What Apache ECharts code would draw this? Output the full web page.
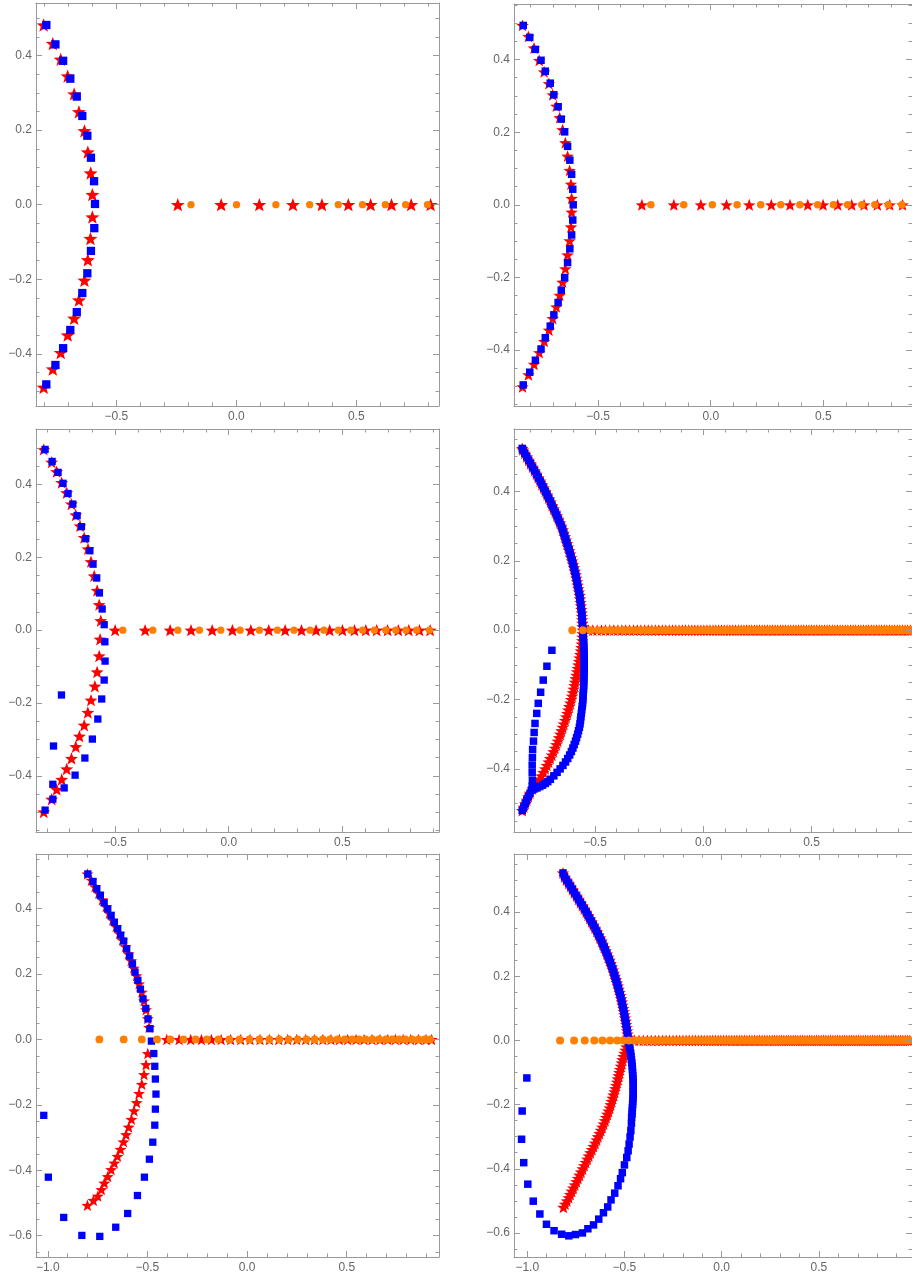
<!DOCTYPE html>
<html>
<head>
<meta charset="utf-8">
<script src="https://cdn.jsdelivr.net/npm/echarts@6/dist/echarts.min.js"></script>
<style>
html,body{margin:0;padding:0;background:#fff;overflow:hidden;}
#chart{width:912px;height:1279px;}
</style>
</head>
<body>
<div id="chart"></div>
<script>
// ---------------- DATA ----------------
// tick labels
const xTicksA = [-0.5, 0.0, 0.5];
const xTicksB = [-1.0, -0.5, 0.0, 0.5];
const yTicksA = [-0.4, -0.2, 0.0, 0.2, 0.4];
const yTicksB = [-0.6, -0.4, -0.2, 0.0, 0.2, 0.4];

// Panel 1
const p1ArcStars = [[-0.803,0.482],[-0.765,0.432],[-0.732,0.390],[-0.703,0.345],[-0.676,0.297],[-0.656,0.249],[-0.633,0.198],[-0.619,0.141],[-0.607,0.085],[-0.600,0.027],[-0.600,-0.033],[-0.608,-0.091],[-0.619,-0.148],[-0.633,-0.203],[-0.656,-0.256],[-0.676,-0.305],[-0.703,-0.350],[-0.732,-0.397],[-0.765,-0.441],[-0.803,-0.490]];
const p1AxisStarX = [-0.244,-0.063,0.096,0.236,0.357,0.467,0.560,0.647,0.729,0.810];
const p1Squares = [[-0.792,0.482],[-0.754,0.430],[-0.722,0.386],[-0.692,0.338],[-0.665,0.290],[-0.642,0.238],[-0.621,0.185],[-0.606,0.126],[-0.593,0.063],[-0.589,0.002],[-0.592,-0.063],[-0.606,-0.124],[-0.621,-0.184],[-0.642,-0.237],[-0.665,-0.288],[-0.692,-0.336],[-0.722,-0.385],[-0.754,-0.430],[-0.792,-0.482]];
const p1CircleX = [-0.189,0.001,0.165,0.306,0.425,0.526,0.621,0.706,0.797];

// Panel 2
const p2ArcStars = [[-0.836,0.494],[-0.810,0.464],[-0.785,0.432],[-0.762,0.398],[-0.740,0.366],[-0.719,0.334],[-0.702,0.303],[-0.686,0.272],[-0.671,0.240],[-0.658,0.207],[-0.646,0.171],[-0.636,0.134],[-0.627,0.095],[-0.621,0.057],[-0.618,0.018],[-0.618,-0.020],[-0.621,-0.061],[-0.627,-0.099],[-0.636,-0.138],[-0.646,-0.176],[-0.658,-0.213],[-0.671,-0.249],[-0.686,-0.281],[-0.702,-0.313],[-0.719,-0.345],[-0.740,-0.376],[-0.762,-0.407],[-0.785,-0.439],[-0.810,-0.468],[-0.836,-0.501]];
const p2AxisStarX = [-0.306,-0.164,-0.044,0.070,0.171,0.269,0.352,0.431,0.499,0.564,0.626,0.681,0.740,0.795,0.852];
const p2Squares = [[-0.833,0.494],[-0.804,0.461],[-0.779,0.428],[-0.754,0.398],[-0.735,0.368],[-0.713,0.335],[-0.697,0.303],[-0.678,0.270],[-0.664,0.236],[-0.649,0.201],[-0.636,0.161],[-0.626,0.123],[-0.618,0.084],[-0.613,0.043],[-0.611,0.000],[-0.613,-0.042],[-0.618,-0.083],[-0.626,-0.121],[-0.636,-0.159],[-0.649,-0.200],[-0.664,-0.235],[-0.678,-0.269],[-0.697,-0.303],[-0.713,-0.334],[-0.735,-0.366],[-0.754,-0.397],[-0.779,-0.428],[-0.804,-0.461],[-0.833,-0.496]];
const p2CircleX = [-0.266,-0.120,0.007,0.117,0.222,0.311,0.396,0.475,0.545,0.608,0.671,0.729,0.788,0.849];

// Panel 3
const p3ArcStars = [[-0.814,0.496],[-0.779,0.461],[-0.757,0.435],[-0.735,0.405],[-0.713,0.377],[-0.692,0.346],[-0.673,0.316],[-0.654,0.286],[-0.636,0.254],[-0.619,0.223],[-0.606,0.188],[-0.592,0.149],[-0.579,0.109],[-0.570,0.070],[-0.563,0.026],[-0.566,-0.025],[-0.570,-0.071],[-0.579,-0.115],[-0.589,-0.154],[-0.606,-0.192],[-0.620,-0.226],[-0.636,-0.261],[-0.657,-0.291],[-0.673,-0.320],[-0.692,-0.352],[-0.713,-0.381],[-0.735,-0.410],[-0.757,-0.437],[-0.779,-0.464],[-0.814,-0.499]];
const p3AxisStarX = [-0.500,-0.368,-0.258,-0.166,-0.073,0.016,0.097,0.176,0.248,0.320,0.384,0.444,0.500,0.553,0.603,0.651,0.699,0.746,0.792,0.839,0.886];
const p3Squares = [[-0.808,0.496],[-0.777,0.463],[-0.751,0.433],[-0.729,0.403],[-0.707,0.375],[-0.686,0.346],[-0.667,0.314],[-0.648,0.284],[-0.629,0.251],[-0.611,0.218],[-0.597,0.181],[-0.581,0.143],[-0.569,0.102],[-0.557,0.058],[-0.548,0.015],[-0.545,-0.032],[-0.544,-0.085],[-0.548,-0.137],[-0.559,-0.189],[-0.576,-0.244],[-0.600,-0.299],[-0.633,-0.351],[-0.676,-0.398],[-0.724,-0.433],[-0.774,-0.464],[-0.808,-0.494],[-0.736,-0.178],[-0.771,-0.318],[-0.774,-0.423]];
const p3CircleX = [-0.466,-0.334,-0.224,-0.129,-0.035,0.050,0.135,0.214,0.287,0.358,0.419,0.482,0.537,0.589,0.641,0.691,0.735,0.780,0.827,0.883];

// Panel 4
const p4UpperArc = [[-0.836,0.524],[-0.833,0.52],[-0.824,0.51],[-0.815,0.50],[-0.806,0.49],[-0.797,0.48],[-0.788,0.47],[-0.779,0.46],[-0.770,0.45],[-0.762,0.44],[-0.753,0.43],[-0.745,0.42],[-0.737,0.41],[-0.729,0.40],[-0.721,0.39],[-0.713,0.38],[-0.705,0.37],[-0.698,0.36],[-0.691,0.35],[-0.683,0.34],[-0.676,0.33],[-0.669,0.32],[-0.662,0.31],[-0.655,0.30],[-0.649,0.29],[-0.644,0.28],[-0.639,0.27],[-0.634,0.26],[-0.629,0.25],[-0.624,0.24],[-0.619,0.23],[-0.614,0.22],[-0.610,0.21],[-0.605,0.20],[-0.601,0.19],[-0.597,0.18],[-0.593,0.17],[-0.589,0.16],[-0.586,0.15],[-0.583,0.14],[-0.580,0.13],[-0.577,0.12],[-0.574,0.11],[-0.571,0.10],[-0.569,0.09],[-0.567,0.08],[-0.565,0.07],[-0.563,0.06],[-0.561,0.05],[-0.560,0.04],[-0.559,0.03],[-0.558,0.02],[-0.557,0.01],[-0.556,0.00]];
const p4BlueLower = [[-0.555,-0.01],[-0.554,-0.02],[-0.553,-0.03],[-0.552,-0.04],[-0.551,-0.05],[-0.551,-0.06],[-0.550,-0.07],[-0.550,-0.08],[-0.550,-0.09],[-0.550,-0.10],[-0.550,-0.11],[-0.550,-0.12],[-0.551,-0.13],[-0.551,-0.14],[-0.552,-0.15],[-0.552,-0.16],[-0.553,-0.17],[-0.554,-0.18],[-0.555,-0.19],[-0.556,-0.20],[-0.557,-0.21],[-0.559,-0.22],[-0.561,-0.23],[-0.563,-0.24],[-0.565,-0.25],[-0.567,-0.26],[-0.569,-0.27],[-0.572,-0.28],[-0.576,-0.29],[-0.580,-0.30],[-0.585,-0.31],[-0.590,-0.32],[-0.596,-0.33],[-0.602,-0.34],[-0.609,-0.35],[-0.617,-0.36],[-0.626,-0.37],[-0.636,-0.38],[-0.648,-0.39],[-0.661,-0.40],[-0.675,-0.41],[-0.690,-0.42],[-0.706,-0.43],[-0.718,-0.437],[-0.730,-0.442],[-0.742,-0.447],[-0.755,-0.451],[-0.768,-0.455],[-0.781,-0.458],[-0.793,-0.461]];
const p4RedLower = [[-0.557,-0.01],[-0.558,-0.02],[-0.559,-0.03],[-0.561,-0.04],[-0.563,-0.05],[-0.565,-0.06],[-0.568,-0.07],[-0.571,-0.08],[-0.574,-0.09],[-0.577,-0.10],[-0.580,-0.11],[-0.583,-0.12],[-0.586,-0.13],[-0.589,-0.14],[-0.592,-0.15],[-0.595,-0.16],[-0.599,-0.17],[-0.602,-0.18],[-0.606,-0.19],[-0.610,-0.20],[-0.614,-0.21],[-0.619,-0.22],[-0.623,-0.23],[-0.628,-0.24],[-0.633,-0.25],[-0.638,-0.26],[-0.644,-0.27],[-0.649,-0.28],[-0.655,-0.29],[-0.660,-0.30],[-0.666,-0.31],[-0.672,-0.32],[-0.679,-0.33],[-0.685,-0.34],[-0.692,-0.35],[-0.699,-0.36],[-0.707,-0.37],[-0.714,-0.38],[-0.722,-0.39],[-0.730,-0.40],[-0.739,-0.41],[-0.748,-0.42],[-0.758,-0.43],[-0.768,-0.44],[-0.778,-0.45],[-0.788,-0.458]];
const p4Tail = [[-0.800,-0.470],[-0.808,-0.480],[-0.815,-0.490],[-0.822,-0.500],[-0.829,-0.510],[-0.836,-0.520]];
const p4BlueStub = [[-0.699,-0.058],[-0.722,-0.104],[-0.739,-0.144],[-0.751,-0.179],[-0.762,-0.211],[-0.769,-0.240],[-0.777,-0.269],[-0.781,-0.295],[-0.784,-0.320],[-0.788,-0.344],[-0.789,-0.367],[-0.790,-0.389],[-0.790,-0.411],[-0.789,-0.433],[-0.790,-0.450]];
const p4AxisStarX = [-0.530,-0.510,-0.490,-0.470,-0.451,-0.432,-0.413,-0.394,-0.376,-0.358,-0.340,-0.322,-0.305,-0.288,-0.271,-0.254,-0.237,-0.221,-0.205,-0.189,-0.173,-0.157,-0.142,-0.127,-0.112,-0.097,-0.082,-0.067,-0.053,-0.039,-0.025,-0.011,0.003,0.017,0.031,0.045,0.058,0.071,0.084,0.097,0.110,0.123,0.136,0.149,0.162,0.175,0.188,0.200,0.212,0.224,0.236,0.248,0.260,0.272,0.284,0.296,0.308,0.320,0.332,0.344,0.356,0.368,0.380,0.392,0.404,0.416,0.428,0.440,0.452,0.464,0.476,0.488,0.500,0.512,0.524,0.536,0.548,0.560,0.572,0.584,0.596,0.608,0.620,0.632,0.644,0.656,0.668,0.680,0.692,0.704,0.716,0.728,0.740,0.752,0.764,0.776,0.788,0.800,0.812,0.824,0.836,0.848,0.860,0.872,0.884,0.896,0.908,0.920,0.932,0.944,0.956];
const p4CircleX = [-0.605,-0.556,-0.521,-0.487,-0.455,-0.425,-0.396,-0.368,-0.341,-0.315,-0.290,-0.265,-0.241,-0.218,-0.195,-0.173,-0.151,-0.130,-0.109,-0.089,-0.069,-0.049,-0.030,-0.011,0.008,0.026,0.044,0.062,0.079,0.096,0.113,0.130,0.146,0.162,0.178,0.194,0.210,0.225,0.240,0.255,0.270,0.285,0.299,0.313,0.327,0.341,0.355,0.369,0.382,0.395,0.408,0.421,0.434,0.447,0.460,0.472,0.484,0.496,0.508,0.520,0.532,0.544,0.556,0.567,0.578,0.589,0.600,0.611,0.622,0.633,0.644,0.655,0.665,0.675,0.685,0.695,0.705,0.715,0.725,0.735,0.745,0.755,0.765,0.774,0.783,0.792,0.801,0.810,0.819,0.828,0.837,0.846,0.855,0.864,0.873,0.882,0.891,0.900,0.909,0.918,0.927,0.936,0.945,0.954,0.963];

// Panel 5
const p5ArcStars = [[-0.801,0.506],[-0.781,0.487],[-0.763,0.467],[-0.744,0.447],[-0.726,0.427],[-0.707,0.406],[-0.691,0.386],[-0.674,0.365],[-0.657,0.345],[-0.640,0.324],[-0.625,0.304],[-0.610,0.284],[-0.595,0.262],[-0.582,0.241],[-0.569,0.218],[-0.555,0.195],[-0.542,0.170],[-0.528,0.145],[-0.517,0.118],[-0.507,0.091],[-0.498,0.064],[-0.492,0.037],[-0.498,-0.043],[-0.507,-0.077],[-0.517,-0.107],[-0.528,-0.137],[-0.542,-0.165],[-0.554,-0.193],[-0.567,-0.218],[-0.580,-0.244],[-0.594,-0.268],[-0.607,-0.291],[-0.620,-0.313],[-0.635,-0.336],[-0.650,-0.357],[-0.666,-0.378],[-0.682,-0.398],[-0.699,-0.419],[-0.716,-0.439],[-0.731,-0.459],[-0.749,-0.479],[-0.771,-0.492],[-0.801,-0.507]];
const p5AxisStarX = [-0.403,-0.341,-0.283,-0.229,-0.179,-0.130,-0.082,-0.032,0.015,0.065,0.112,0.159,0.204,0.249,0.294,0.338,0.380,0.421,0.463,0.505,0.547,0.587,0.627,0.667,0.706,0.744,0.783,0.821,0.860,0.898,0.926];
const p5Squares = [[-0.799,0.506],[-0.773,0.483],[-0.754,0.461],[-0.736,0.441],[-0.717,0.418],[-0.699,0.399],[-0.682,0.379],[-0.666,0.358],[-0.649,0.339],[-0.634,0.319],[-0.619,0.301],[-0.604,0.277],[-0.589,0.255],[-0.575,0.231],[-0.562,0.206],[-0.548,0.181],[-0.535,0.154],[-0.522,0.124],[-0.508,0.095],[-0.497,0.063],[-0.487,0.033],[-0.480,-0.005],[-0.468,-0.043],[-0.463,-0.082],[-0.460,-0.121],[-0.457,-0.167],[-0.460,-0.213],[-0.463,-0.262],[-0.473,-0.314],[-0.490,-0.366],[-0.515,-0.421],[-0.550,-0.477],[-0.599,-0.532],[-0.659,-0.574],[-0.739,-0.602],[-0.829,-0.599],[-0.920,-0.544],[-0.997,-0.421],[-1.020,-0.232]];
const p5CircleX = [-0.741,-0.619,-0.528,-0.452,-0.385,-0.319,-0.258,-0.201,-0.144,-0.089,-0.038,0.012,0.062,0.112,0.162,0.209,0.254,0.298,0.339,0.380,0.416,0.453,0.490,0.527,0.562,0.595,0.629,0.662,0.696,0.729,0.763,0.794,0.828,0.860,0.891,0.918];

// Panel 6
const p6UpperArc = [[-0.816,0.522],[-0.808,0.51],[-0.798,0.50],[-0.787,0.49],[-0.777,0.48],[-0.767,0.47],[-0.757,0.46],[-0.746,0.45],[-0.736,0.44],[-0.726,0.43],[-0.716,0.42],[-0.706,0.41],[-0.696,0.40],[-0.687,0.39],[-0.678,0.38],[-0.669,0.37],[-0.660,0.36],[-0.651,0.35],[-0.642,0.34],[-0.634,0.33],[-0.626,0.32],[-0.618,0.31],[-0.611,0.30],[-0.604,0.29],[-0.597,0.28],[-0.590,0.27],[-0.583,0.26],[-0.577,0.25],[-0.571,0.24],[-0.565,0.23],[-0.559,0.22],[-0.554,0.21],[-0.549,0.20],[-0.544,0.19],[-0.539,0.18],[-0.534,0.17],[-0.530,0.16],[-0.525,0.15],[-0.521,0.14],[-0.517,0.13],[-0.513,0.12],[-0.510,0.11],[-0.506,0.10],[-0.503,0.09],[-0.500,0.08],[-0.497,0.07],[-0.494,0.06],[-0.491,0.05],[-0.489,0.04],[-0.486,0.03],[-0.484,0.02],[-0.482,0.01],[-0.480,0.00]];
const p6BlueLower = [[-0.477,-0.01],[-0.474,-0.02],[-0.471,-0.03],[-0.468,-0.04],[-0.466,-0.05],[-0.464,-0.06],[-0.462,-0.07],[-0.460,-0.08],[-0.459,-0.09],[-0.458,-0.10],[-0.457,-0.11],[-0.456,-0.12],[-0.455,-0.13],[-0.455,-0.14],[-0.455,-0.15],[-0.455,-0.16],[-0.455,-0.17],[-0.456,-0.18],[-0.457,-0.19],[-0.458,-0.20],[-0.459,-0.21],[-0.460,-0.22],[-0.461,-0.23],[-0.463,-0.24],[-0.464,-0.258],[-0.467,-0.281],[-0.471,-0.301],[-0.476,-0.323],[-0.481,-0.344],[-0.488,-0.365],[-0.500,-0.388],[-0.511,-0.412],[-0.520,-0.431],[-0.533,-0.453],[-0.550,-0.476],[-0.569,-0.497],[-0.586,-0.519],[-0.608,-0.537],[-0.632,-0.557],[-0.659,-0.575],[-0.688,-0.587],[-0.716,-0.600],[-0.752,-0.605],[-0.786,-0.609],[-0.823,-0.604],[-0.862,-0.593],[-0.901,-0.573],[-0.935,-0.541],[-0.969,-0.501],[-0.997,-0.448],[-1.018,-0.381],[-1.029,-0.308],[-1.026,-0.220],[-1.002,-0.117]];
const p6RedLower = [[-0.485,-0.01],[-0.490,-0.02],[-0.495,-0.03],[-0.500,-0.04],[-0.505,-0.05],[-0.510,-0.06],[-0.514,-0.07],[-0.518,-0.08],[-0.522,-0.09],[-0.526,-0.10],[-0.530,-0.11],[-0.534,-0.12],[-0.538,-0.13],[-0.542,-0.14],[-0.547,-0.15],[-0.551,-0.16],[-0.556,-0.17],[-0.561,-0.18],[-0.566,-0.19],[-0.571,-0.20],[-0.576,-0.21],[-0.582,-0.22],[-0.588,-0.23],[-0.594,-0.24],[-0.600,-0.25],[-0.607,-0.26],[-0.614,-0.27],[-0.621,-0.28],[-0.628,-0.29],[-0.636,-0.30],[-0.643,-0.31],[-0.651,-0.32],[-0.659,-0.33],[-0.667,-0.34],[-0.675,-0.35],[-0.683,-0.36],[-0.691,-0.37],[-0.699,-0.38],[-0.707,-0.39],[-0.715,-0.40],[-0.723,-0.41],[-0.731,-0.42],[-0.739,-0.43],[-0.747,-0.44],[-0.755,-0.45],[-0.763,-0.46],[-0.771,-0.47],[-0.779,-0.48],[-0.787,-0.49],[-0.796,-0.50],[-0.805,-0.51],[-0.814,-0.52]];
const p6AxisStarX = [-0.472,-0.448,-0.425,-0.403,-0.382,-0.362,-0.342,-0.323,-0.304,-0.286,-0.268,-0.250,-0.233,-0.216,-0.199,-0.183,-0.167,-0.151,-0.135,-0.120,-0.105,-0.090,-0.075,-0.060,-0.046,-0.032,-0.018,-0.004,0.010,0.024,0.038,0.052,0.065,0.078,0.091,0.104,0.117,0.130,0.143,0.156,0.169,0.182,0.195,0.208,0.221,0.234,0.247,0.260,0.272,0.284,0.296,0.308,0.320,0.332,0.344,0.356,0.368,0.380,0.392,0.404,0.416,0.428,0.440,0.452,0.464,0.476,0.488,0.500,0.512,0.524,0.536,0.548,0.560,0.572,0.584,0.596,0.608,0.620,0.632,0.644,0.656,0.668,0.680,0.692,0.704,0.716,0.728,0.740,0.752,0.764,0.776,0.788,0.800,0.812,0.824,0.836,0.848,0.860,0.872,0.884,0.896,0.908,0.920,0.932,0.944,0.956,0.968];
const p6CircleX = [-0.831,-0.759,-0.704,-0.655,-0.613,-0.574,-0.537,-0.506,-0.477,-0.452,-0.430,-0.408,-0.388,-0.368,-0.349,-0.330,-0.312,-0.294,-0.277,-0.260,-0.243,-0.227,-0.211,-0.195,-0.180,-0.165,-0.150,-0.135,-0.121,-0.107,-0.093,-0.079,-0.065,-0.052,-0.039,-0.026,-0.013,0.000,0.013,0.025,0.037,0.049,0.061,0.073,0.085,0.097,0.108,0.119,0.130,0.141,0.152,0.163,0.174,0.185,0.196,0.206,0.216,0.226,0.236,0.246,0.256,0.266,0.276,0.286,0.296,0.306,0.317,0.328,0.339,0.350,0.361,0.372,0.383,0.394,0.405,0.416,0.427,0.438,0.449,0.460,0.471,0.482,0.493,0.504,0.515,0.526,0.537,0.548,0.559,0.570,0.581,0.592,0.603,0.614,0.625,0.636,0.647,0.658,0.669,0.680,0.691,0.702,0.713,0.724,0.735,0.746,0.757,0.768,0.779,0.790,0.801,0.812,0.823,0.834,0.845,0.856,0.867,0.878,0.889,0.900,0.911,0.922,0.933,0.944,0.955,0.966];

// ---------------- BUILD ----------------
const onAxis = xs => xs.map(x => [x, 0]);
const panelData = [
  { stars: p1ArcStars.concat(onAxis(p1AxisStarX)), squares: p1Squares, circles: onAxis(p1CircleX) },
  { stars: p2ArcStars.concat(onAxis(p2AxisStarX)), squares: p2Squares, circles: onAxis(p2CircleX) },
  { stars: p3ArcStars.concat(onAxis(p3AxisStarX)), squares: p3Squares, circles: onAxis(p3CircleX) },
  { stars: p4UpperArc.concat(p4RedLower, p4Tail, onAxis(p4AxisStarX)), squares: p4UpperArc.concat(p4BlueLower, p4Tail, p4BlueStub), circles: onAxis(p4CircleX) },
  { stars: p5ArcStars.concat(onAxis(p5AxisStarX)), squares: p5Squares, circles: onAxis(p5CircleX) },
  { stars: p6UpperArc.concat(p6RedLower, onAxis(p6AxisStarX)), squares: p6UpperArc.concat(p6BlueLower), circles: onAxis(p6CircleX) }
];

// layout / style (not data)
const layout = [
  { left: 36,  top: 3,   w: 403, h: 403, x: [-0.835, 0.845], y: [-0.540, 0.541], xt: xTicksA, yt: yTicksA, star: 14,   sq: 8.3, circ: 7.3 },
  { left: 514, top: 4,   w: 403, h: 402, x: [-0.874, 0.894], y: [-0.554, 0.553], xt: xTicksA, yt: yTicksA, star: 12.5, sq: 7.5, circ: 7.5 },
  { left: 36,  top: 429, w: 403, h: 403, x: [-0.848, 0.925], y: [-0.554, 0.552], xt: xTicksA, yt: yTicksA, star: 13,   sq: 7.3, circ: 7.3 },
  { left: 514, top: 429, w: 403, h: 403, x: [-0.874, 0.964], y: [-0.582, 0.580], xt: xTicksA, yt: yTicksA, star: 12.5, sq: 7.5, circ: 8 },
  { left: 36,  top: 854, w: 403, h: 403, x: [-1.059, 0.963], y: [-0.665, 0.567], xt: xTicksB, yt: yTicksB, star: 12,   sq: 7.3, circ: 7.8 },
  { left: 514, top: 854, w: 403, h: 403, x: [-1.068, 0.979], y: [-0.675, 0.581], xt: xTicksB, yt: yTicksB, star: 12.5, sq: 7.5, circ: 8 }
];

const STAR = 'path://M50 0 L62.34 33.01 L97.55 34.55 L69.97 56.49 L79.39 90.45 L50 71 L20.61 90.45 L30.03 56.49 L2.45 34.55 L37.66 33.01 Z';
const FRAME = '#9a9a9a';
const LABEL = '#666666';
const fmt = v => (v < -1e-9 ? '\u2212' : '') + Math.abs(v).toFixed(1);

function minorVals(lo, hi, step, majorEvery) {
  const out = [];
  const k0 = Math.ceil(lo / step - 1e-9), k1 = Math.floor(hi / step + 1e-9);
  for (let k = k0; k <= k1; k++) if (k % majorEvery !== 0) out.push(+(k * step).toFixed(4));
  return out;
}

const grids = [], xAxes = [], yAxes = [], series = [];
layout.forEach((L, i) => {
  grids.push({ left: L.left, top: L.top, width: L.w, height: L.h, show: false });
  const xMinor = minorVals(L.x[0], L.x[1], 0.1, 5);
  const yMinor = minorVals(L.y[0], L.y[1], 0.05, 4);
  const mk = (pos, lim, major, minor, isX) => {
    const base = { type: 'value', gridIndex: i, min: lim[0], max: lim[1], position: pos, splitLine: { show: false }, z: 5 };
    const labelShow = (pos === 'bottom' || pos === 'left');
    return [
      Object.assign({}, base, {
        axisLine: { show: true, onZero: false, lineStyle: { color: FRAME, width: 1 } },
        axisTick: { show: true, inside: true, length: 6, customValues: major, lineStyle: { color: FRAME, width: 1 } },
        axisLabel: { show: labelShow, customValues: major, formatter: fmt, color: LABEL, fontSize: 12, fontFamily: 'Liberation Sans, Arial, sans-serif', margin: isX ? 5 : 4 }
      }),
      Object.assign({}, base, {
        axisLine: { show: false, onZero: false },
        axisTick: { show: true, inside: true, length: 3.5, customValues: minor, lineStyle: { color: FRAME, width: 1 } },
        axisLabel: { show: false }
      })
    ];
  };
  xAxes.push(...mk('bottom', L.x, L.xt, xMinor, true), ...mk('top', L.x, L.xt, xMinor, true));
  yAxes.push(...mk('left', L.y, L.yt, yMinor, false), ...mk('right', L.y, L.yt, yMinor, false));
  const D = panelData[i];
  const common = { type: 'scatter', xAxisIndex: 4 * i, yAxisIndex: 4 * i, silent: true, animation: false };
  series.push(Object.assign({}, common, { data: D.stars, symbol: STAR, symbolKeepAspect: true, symbolSize: L.star, itemStyle: { color: '#ff0000', opacity: 1 }, z: 2 }));
  series.push(Object.assign({}, common, { data: D.squares, symbol: 'rect', symbolSize: L.sq, itemStyle: { color: '#0000ff', opacity: 1 }, z: 3 }));
  series.push(Object.assign({}, common, { data: D.circles, symbol: 'circle', symbolSize: L.circ, itemStyle: { color: '#ff8000', opacity: 1 }, z: 4 }));
});

const chart = echarts.init(document.getElementById('chart'), null, { renderer: 'canvas' });
chart.setOption({
  backgroundColor: '#ffffff',
  animation: false,
  grid: grids,
  xAxis: xAxes,
  yAxis: yAxes,
  series: series
});
</script>
</body>
</html>
